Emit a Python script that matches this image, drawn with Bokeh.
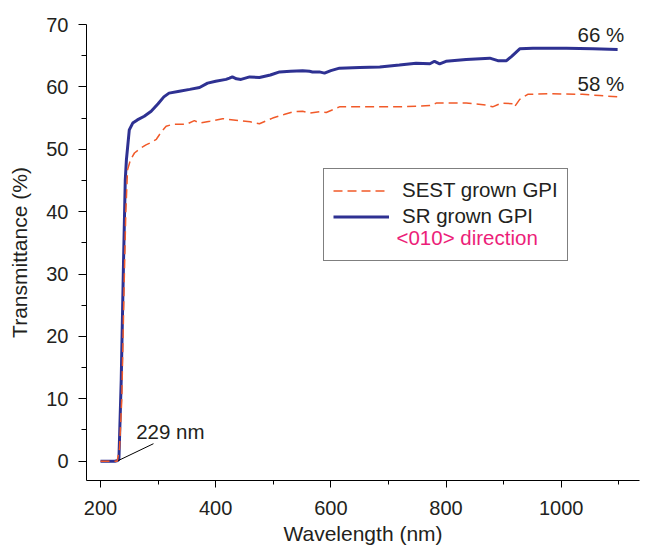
from bokeh.plotting import figure
from bokeh.models import FixedTicker, Legend, LegendItem, Range1d
from bokeh.core.properties import value
from bokeh.embed import file_html
from bokeh.resources import INLINE

# ---- data ----
sr_wavelength = [200, 225, 230, 232, 236, 240, 243, 245, 250, 256, 264, 276, 288, 300, 310, 319,
                 337, 355, 372, 386, 400, 418, 424, 429, 436, 444, 459, 476, 495, 511, 530, 551,
                 563, 568, 580, 589, 600, 615, 650, 685, 719, 748, 772, 780, 789, 800, 835, 876,
                 890, 905, 914, 928, 951, 1009, 1055, 1098]
sr_transmittance = [0, 0, 0.1, 0.3, 13, 32, 45, 48.3, 53.1, 54.2, 54.7, 55.3, 56.1, 57.3, 58.4, 59.0,
                    59.3, 59.6, 59.9, 60.6, 60.9, 61.2, 61.4, 61.6, 61.3, 61.2, 61.6, 61.5, 61.9, 62.4, 62.5, 62.6,
                    62.5, 62.4, 62.4, 62.2, 62.6, 63.0, 63.1, 63.2, 63.5, 63.8, 63.7, 64.1, 63.7, 64.1, 64.4, 64.6,
                    64.2, 64.2, 64.9, 66.1, 66.2, 66.2, 66.1, 66.0]

sest_wavelength = [200, 229, 233, 237, 241, 244, 247, 252, 259, 270, 279, 288, 297, 305, 314, 326,
                   349, 363, 372, 390, 412, 441, 460, 476, 499, 520, 534, 551, 563, 580, 592, 615,
                   662, 719, 772, 783, 835, 870, 881, 896, 916, 919, 928, 942, 980, 1037, 1067, 1098]
sest_transmittance = [0, 0, 2, 10, 28, 40, 46.7, 48.3, 49.4, 50.2, 50.7, 51.1, 51.6, 52.7, 53.7, 54.0,
                      54.0, 54.6, 54.2, 54.5, 54.9, 54.6, 54.4, 54.1, 55.0, 55.6, 56.0, 56.1, 55.8, 56.0, 55.9, 56.8,
                      56.8, 56.8, 57.0, 57.4, 57.4, 57.1, 56.8, 57.4, 57.3, 56.8, 58.0, 58.8, 58.9, 58.8, 58.6, 58.4]

series_labels = ["SEST grown GPI", "SR grown GPI"]
direction_label = "<010> direction"

x_ticks = [200, 400, 600, 800, 1000]
x_minor = [300, 500, 700, 900, 1100]
y_ticks = [0, 10, 20, 30, 40, 50, 60, 70]
y_minor = [5, 15, 25, 35, 45, 55, 65]

end_labels = ["66 %", "58 %"]
end_label_x = [1069, 1069]
end_label_y = [68.4, 60.5]

cutoff_label = ["229 nm"]
cutoff_text_x = [262]
cutoff_text_y = [4.8]
leader_x0, leader_y0, leader_x1, leader_y1 = [231], [0.1], [292], [2.8]

dir_x = [714]
dir_y = [35.9]

# ---- styles ----
FONT = "Liberation Sans"
TXT = "#231f20"
BLUE = "#2e3192"
ORANGE = "#f15a29"
PINK = "#ec1e79"

p = figure(frame_width=553, frame_height=456, output_backend="svg", toolbar_location=None,
           x_range=Range1d(175.7, 1136), y_range=Range1d(-3.1, 70),
           min_border_left=86, min_border_right=6, min_border_top=24, min_border_bottom=60)
p.outline_line_color = None
p.xgrid.grid_line_color = None
p.ygrid.grid_line_color = None
p.background_fill_color = "white"
p.border_fill_color = "white"

r_sr = p.line(sr_wavelength, sr_transmittance, line_color=BLUE, line_width=3)
r_sest = p.line(sest_wavelength, sest_transmittance, line_color=ORANGE, line_width=1.5,
                line_dash="9 5")
r_dummy = p.line([200, 200], [0, 0], line_alpha=0)

legend = Legend(items=[LegendItem(label=series_labels[0], renderers=[r_sest]),
                       LegendItem(label=series_labels[1], renderers=[r_sr]),
                       LegendItem(label=" ", renderers=[r_dummy])],
                location=(237, 219), padding=9, spacing=2, margin=0,
                glyph_width=56, glyph_height=21, label_height=21, label_standoff=13,
                label_text_font=FONT, label_text_font_size="20.5px", label_text_color=TXT,
                border_line_color="black", border_line_width=1,
                background_fill_alpha=0)
p.add_layout(legend, "center")

# annotations
p.text(end_label_x, end_label_y, text=end_labels, text_font=value(FONT), text_font_size="20.5px",
       text_color=TXT, text_align="center", text_baseline="middle")
p.text(cutoff_text_x, cutoff_text_y, text=cutoff_label, text_font=value(FONT), text_font_size="20.5px",
       text_color=TXT, text_align="left", text_baseline="middle")
p.segment(leader_x0, leader_y0, leader_x1, leader_y1, line_color="black", line_width=1)
p.text(dir_x, dir_y, text=[direction_label], text_font=value(FONT), text_font_size="20.5px",
       text_color=PINK, text_align="left", text_baseline="middle")

# axes
p.xaxis.ticker = FixedTicker(ticks=x_ticks, minor_ticks=x_minor)
p.yaxis.ticker = FixedTicker(ticks=y_ticks, minor_ticks=y_minor)
for ax in (p.xaxis[0], p.yaxis[0]):
    ax.axis_line_color = "black"
    ax.major_tick_line_color = "black"
    ax.minor_tick_line_color = "black"
    ax.major_tick_in = 0
    ax.minor_tick_in = 0
    ax.major_label_text_font = FONT
    ax.major_label_text_font_size = "20px"
    ax.major_label_text_color = TXT
    ax.axis_label_text_font = FONT
    ax.axis_label_text_font_size = "21px"
    ax.axis_label_text_font_style = "normal"
    ax.axis_label_text_color = TXT
p.xaxis.major_tick_out = 7
p.xaxis.minor_tick_out = 4
p.yaxis.major_tick_out = 8
p.yaxis.minor_tick_out = 5
p.xaxis.axis_label = "Wavelength (nm)"
p.yaxis.axis_label = "Transmittance (%)"
p.xaxis.major_label_standoff = 13
p.xaxis.axis_label_standoff = 4
p.yaxis.major_label_standoff = 10
p.yaxis.axis_label_standoff = 12

open("out.html", "w").write(file_html(p, INLINE))
